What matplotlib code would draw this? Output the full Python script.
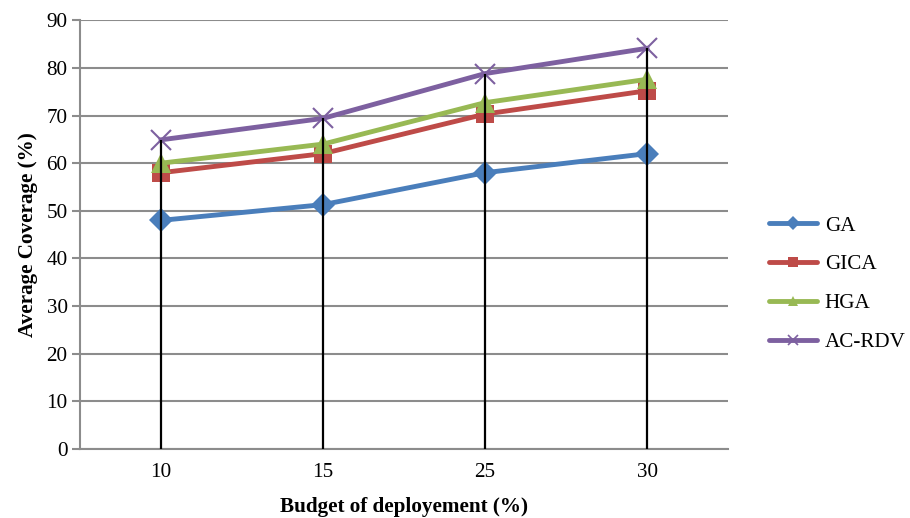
import matplotlib.pyplot as plt
from matplotlib.lines import Line2D

plt.rcParams['font.family'] = ['Liberation Serif', 'DejaVu Serif']

# Coverage per deployment budget
budgets = ['10', '15', '25', '30']
ga = [48, 51.3, 58, 62]
gica = [58, 62, 70.3, 75.2]
hga = [60, 64, 72.7, 77.6]
ac_rdv = [64.9, 69.4, 78.8, 84.1]

series = [
    ('GA', ga, '#4A7EBB', 'D', 12),
    ('GICA', gica, '#BE4B48', 's', 13),
    ('HGA', hga, '#98B954', '^', 14),
    ('AC-RDV', ac_rdv, '#7D60A0', 'x', 14),
]

fs = 15.2

fig = plt.figure(figsize=(9.1, 5.18), dpi=100)
ax = fig.add_axes([0.088, 0.133, 0.712, 0.828])

x = range(len(budgets))

# drop lines from the top value down to the axis
tops = [max(v) for v in zip(ga, gica, hga, ac_rdv)]
ax.vlines(x, 0, tops, colors='black', linewidth=1.6, zorder=4)

handles = []
for name, vals, col, mk, ms in series:
    ax.plot(x, vals, color=col, linewidth=3.5, marker=mk, markersize=ms,
            markeredgewidth=1.5 if mk == 'x' else 0, zorder=3)
    handles.append(Line2D([], [], color=col, linewidth=3.5, marker=mk,
                          markersize=7, markeredgewidth=1.2 if mk == 'x' else 0,
                          solid_capstyle='round'))

ax.set_xlim(-0.5, len(budgets) - 0.5)
ax.set_ylim(0, 90)
ax.set_yticks(range(0, 91, 10))
ax.set_xticks(list(x))
ax.set_xticklabels(budgets)
ax.grid(axis='y', color='#8C8C8C', linewidth=1.5)
ax.set_axisbelow(True)

for s in ['top', 'right']:
    ax.spines[s].set_visible(False)
ax.spines['left'].set_color('#8C8C8C')
ax.spines['left'].set_linewidth(1.5)
ax.spines['bottom'].set_color('#8C8C8C')
ax.spines['bottom'].set_linewidth(1.5)
ax.tick_params(axis='y', length=6, width=1.5, color='#8C8C8C', labelsize=fs, pad=3)
ax.tick_params(axis='x', length=0, labelsize=fs, pad=10)

ax.set_xlabel('Budget of deployement (%)', fontsize=fs, fontweight='bold', labelpad=11)
ax.set_ylabel('Average Coverage (%)', fontsize=fs, fontweight='bold', labelpad=6)

fig.legend(handles, [s[0] for s in series], loc='upper left',
           bbox_to_anchor=(0.824, 0.62), frameon=False, fontsize=fs,
           handlelength=2.3, handletextpad=0.35, labelspacing=0.9)

fig.savefig('out.png', dpi=100)
